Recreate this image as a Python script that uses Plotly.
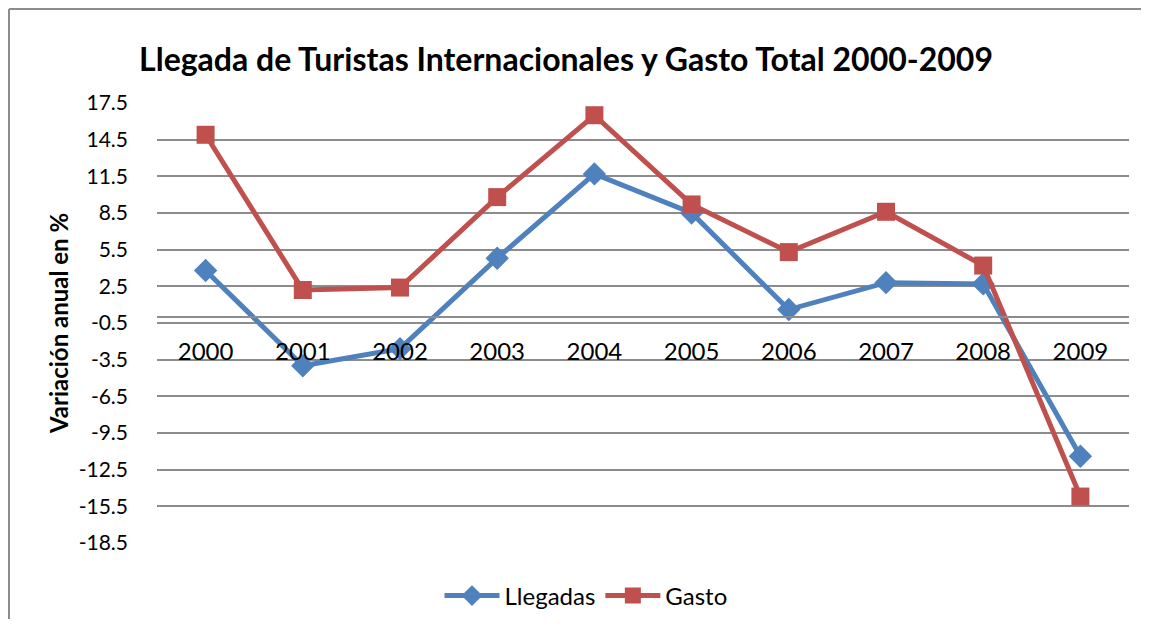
import plotly.graph_objects as go

years = ["2000", "2001", "2002", "2003", "2004", "2005", "2006", "2007", "2008", "2009"]
llegadas = [3.8, -4.0, -2.6, 4.8, 11.7, 8.5, 0.6, 2.8, 2.7, -11.4]
gasto = [14.9, 2.2, 2.4, 9.8, 16.5, 9.2, 5.3, 8.6, 4.2, -14.7]
y_ticks = [-18.5, -15.5, -12.5, -9.5, -6.5, -3.5, -0.5, 2.5, 5.5, 8.5, 11.5, 14.5, 17.5]

title_text = "Llegada de Turistas Internacionales y Gasto Total 2000-2009"
y_title = "Variación anual en %"

FONT = "Lato"
BLUE = "#4F81BD"
RED = "#C0504D"
GRID = "#8C8C8C"

# page body has an 8px margin, so the figure is drawn 8px in from the window edge
OFF = 8
W, H = 1149 - 2 * OFF, 627 - 2 * OFF
L, T, R, B = 157 - OFF, 103 - OFF, 12, 84 - OFF
PW, PH = W - L - R, H - T - B

fig = go.Figure()
fig.add_trace(go.Scatter(
    x=years, y=llegadas, name="Llegadas", mode="lines+markers",
    line=dict(color=BLUE, width=5),
    marker=dict(symbol="diamond", size=18, color=BLUE),
))
fig.add_trace(go.Scatter(
    x=years, y=gasto, name="Gasto", mode="lines+markers",
    line=dict(color=RED, width=5),
    marker=dict(symbol="square", size=18, color=RED),
))

ymin, ymax = y_ticks[0], y_ticks[-1]
zero_pos = (0 - ymin) / (ymax - ymin)

bx0 = (9 - 157) / PW
by1 = (543 - 9) / PH

fig.update_layout(
    width=W, height=H,
    margin=dict(l=L, r=R, t=T, b=B, autoexpand=False),
    paper_bgcolor="white", plot_bgcolor="white",
    font=dict(family=FONT, size=22, color="black"),
    title=dict(text="<b>" + title_text + "</b>", x=(566 - OFF) / W, xanchor="center",
               y=1 - (60 - OFF) / H, yanchor="middle",
               font=dict(family=FONT, size=32, color="black")),
    showlegend=True,
    legend=dict(orientation="h", x=(586 - 157) / PW, xanchor="center",
                y=(543 - 596) / PH, yanchor="middle",
                font=dict(family=FONT, size=24), itemwidth=55, tracegroupgap=0),
    xaxis=dict(
        type="category", range=[-0.5, len(years) - 0.5],
        anchor="free", position=zero_pos,
        showline=True, linecolor=GRID, linewidth=1.5,
        showgrid=False, ticks="", zeroline=False,
        ticklabelstandoff=14,
        tickfont=dict(family=FONT, size=24, color="black"),
    ),
    yaxis=dict(
        range=[ymin, ymax], tickvals=y_ticks, ticktext=[f"{v:.1f}" for v in y_ticks],
        showgrid=True, gridcolor=GRID, gridwidth=1.5,
        zeroline=False, showline=False, ticks="",
        tickfont=dict(family=FONT, size=21, color="black"),
        ticklabelstandoff=28,
        title=dict(text="<b>" + y_title + "</b>", font=dict(family=FONT, size=24, color="black"),
                   standoff=3),
    ),
    shapes=[
        dict(type="line", xref="paper", yref="paper", x0=bx0, x1=(1300 - 157) / PW,
             y0=by1, y1=by1, line=dict(color="#8C8C8C", width=2), layer="below"),
        dict(type="line", xref="paper", yref="paper", x0=bx0, x1=bx0,
             y0=-0.5, y1=by1, line=dict(color="#8C8C8C", width=2), layer="below"),
    ],
)

fig.write_html("out.html")
